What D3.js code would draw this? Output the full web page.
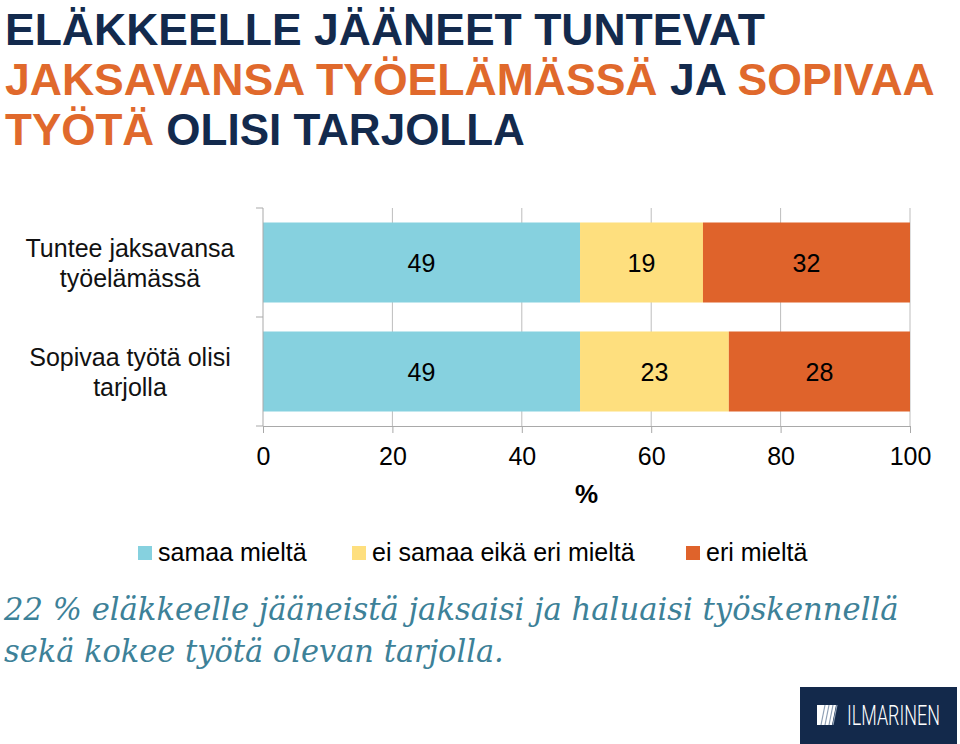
<!DOCTYPE html>
<html><head><meta charset="utf-8">
<script src="https://cdn.jsdelivr.net/npm/d3@7"></script>
<style>body{margin:0;background:#fff}svg{display:block}</style>
</head><body>
<svg id="c" width="960" height="744"></svg>
<script>
const categories = ["Tuntee jaksavansa\ntyöelämässä", "Sopivaa työtä olisi\ntarjolla"];
const seriesNames = ["samaa mieltä", "ei samaa eikä eri mieltä", "eri mieltä"];
const samaa = [49, 49];
const eiSamaa = [19, 23];
const eri = [32, 28];
const xTicks = [0, 20, 40, 60, 80, 100];
const colors = ["#86D1DF", "#FEDF7E", "#DF632B"];

const navy = "#132A4D", orange = "#E0692C", teal = "#3D8198";
const svg = d3.select("#c");
const sans = "'Liberation Sans', Arial, sans-serif";

// Title
const titleLines = [
  [["ELÄKKEELLE JÄÄNEET TUNTEVAT", navy]],
  [["JAKSAVANSA TYÖELÄMÄSSÄ ", orange], ["JA ", navy], ["SOPIVAA", orange]],
  [["TYÖTÄ ", orange], ["OLISI TARJOLLA", navy]]
];
const titleWidths = [760, 930, 520];
const titleBase = [45, 95, 145];
titleLines.forEach((parts, i) => {
  const t = svg.append("text").attr("x", 0).attr("y", 0)
    .attr("font-family", sans).attr("font-weight", "bold").attr("font-size", 45);
  parts.forEach(p => t.append("tspan").attr("fill", p[1]).attr("xml:space","preserve").text(p[0]));
  const w = t.node().getComputedTextLength();
  t.attr("transform", `translate(5,${titleBase[i]}) scale(${titleWidths[i] / w},1)`);
});

// Scales
const x = d3.scaleLinear().domain([0, 100]).range([263, 910]);
const y = d3.scaleBand().domain(categories).range([208, 426]).paddingInner(0.266).paddingOuter(0.133);

// gridlines
svg.append("g").selectAll("line").data(xTicks.slice(1)).join("line")
  .attr("x1", d => x(d)).attr("x2", d => x(d)).attr("y1", 208).attr("y2", 426)
  .attr("stroke", "#BDBDBD").attr("stroke-width", 1);

// bars
const table = categories.map((c, i) => ({cat: c, s0: samaa[i], s1: eiSamaa[i], s2: eri[i]}));
const stack = d3.stack().keys(["s0", "s1", "s2"])(table);
const gBars = svg.append("g");
stack.forEach((layer, li) => {
  gBars.selectAll(null).data(layer).join("rect")
    .attr("x", d => x(d[0])).attr("width", d => x(d[1]) - x(d[0]))
    .attr("y", d => y(d.data.cat)).attr("height", y.bandwidth())
    .attr("fill", colors[li]);
  gBars.selectAll(null).data(layer).join("text")
    .attr("x", d => (x(d[0]) + x(d[1])) / 2)
    .attr("y", d => y(d.data.cat) + y.bandwidth() / 2 + 9)
    .attr("text-anchor", "middle").attr("font-family", sans).attr("font-size", 25)
    .attr("fill", "#000").text(d => d[1] - d[0]);
});

// x axis
const xAxis = svg.append("g").attr("transform", "translate(0,426)")
  .call(d3.axisBottom(x).tickValues(xTicks).tickSize(7).tickPadding(14).tickFormat(d3.format("d")));
xAxis.select(".domain").attr("stroke", "#A9A9A9");
xAxis.selectAll(".tick line").attr("stroke", "#A9A9A9");
xAxis.selectAll("text").attr("font-family", sans).attr("font-size", 25).attr("fill", "#000");

// y axis line with ticks at band boundaries
svg.append("line").attr("x1", 263).attr("x2", 263).attr("y1", 208).attr("y2", 426)
  .attr("stroke", "#A9A9A9");
const bounds = [208, 208 + y.step(), 426];
svg.append("g").selectAll("line").data(bounds).join("line")
  .attr("x1", 256).attr("x2", 263).attr("y1", d => d).attr("y2", d => d).attr("stroke", "#A9A9A9");

// category labels
categories.forEach(c => {
  const lines = c.split("\n");
  const cy = y(c) + y.bandwidth() / 2;
  const t = svg.append("text").attr("text-anchor", "middle").attr("font-family", sans)
    .attr("font-size", 25).attr("fill", "#111");
  lines.forEach((l, i) => t.append("tspan").attr("x", 130)
    .attr("y", cy - 15 * (lines.length - 1) + 30 * i + 9).text(l));
});

// axis title
svg.append("text").attr("x", x(50)).attr("y", 503).attr("text-anchor", "middle")
  .attr("font-family", sans).attr("font-weight", "bold").attr("font-size", 26).text("%");

// legend
const legX = [138, 352, 686];
seriesNames.forEach((n, i) => {
  svg.append("rect").attr("x", legX[i]).attr("y", 546).attr("width", 14).attr("height", 14).attr("fill", colors[i]);
  svg.append("text").attr("x", legX[i] + 20).attr("y", 561).attr("font-family", sans)
    .attr("font-size", 25).attr("fill", "#000").text(n);
});

// footer
const foot = ["22 % eläkkeelle jääneistä jaksaisi ja haluaisi työskennellä", "sekä kokee työtä olevan tarjolla."];
const footW = [895, 500], footB = [620, 662];
foot.forEach((f, i) => {
  const t = svg.append("text").attr("font-family", "'DejaVu Serif', Georgia, serif").attr("font-style", "italic")
    .attr("font-size", 32).attr("fill", teal).text(f);
  const w = t.node().getComputedTextLength();
  t.attr("transform", `translate(4,${footB[i]}) scale(${footW[i] / w},1)`);
});

// logo
svg.append("rect").attr("x", 800).attr("y", 687).attr("width", 157).attr("height", 57).attr("fill", "#13294B");
svg.append("path").attr("d", "M817,705 L836,705 L832,725 L817,725 Z").attr("fill", "#fff");
[0, 4, 8, 12].forEach(o => svg.append("line").attr("x1", 825 + o).attr("y1", 705).attr("x2", 821 + o).attr("y2", 725)
  .attr("stroke", "#8FA0B5").attr("stroke-width", 1.2));
const lt = svg.append("text").attr("font-family", "Roboto, sans-serif").attr("font-weight", 300)
  .attr("font-size", 28).attr("fill", "#fff").text("ILMARINEN");
const lw = lt.node().getComputedTextLength();
lt.attr("transform", `translate(847,725) scale(${93 / lw},1)`);
</script>
</body></html>
